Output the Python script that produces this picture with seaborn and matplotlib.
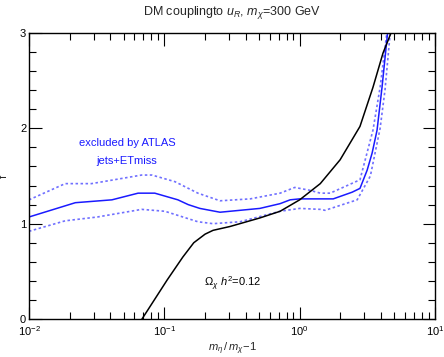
import numpy as np
import pandas as pd
import matplotlib
matplotlib.use("Agg")
import matplotlib.pyplot as plt
import seaborn as sns
from matplotlib.ticker import LogLocator, MultipleLocator, NullFormatter

# ---- data ----
excl_x = [0.01, 0.022, 0.041, 0.064, 0.085, 0.126, 0.15, 0.183, 0.258, 0.508, 0.717, 0.85, 1.0, 1.77, 2.44, 2.79, 3.15, 3.43, 3.73, 4.06, 4.5]
excl_y = [1.07, 1.22, 1.25, 1.32, 1.32, 1.25, 1.20, 1.16, 1.12, 1.16, 1.21, 1.25, 1.26, 1.26, 1.33, 1.37, 1.56, 1.74, 1.98, 2.43, 3.05]

upper_x = [0.01, 0.0185, 0.029, 0.068, 0.081, 0.12, 0.177, 0.258, 0.431, 0.717, 0.92, 1.19, 1.42, 1.68, 2.79, 3.48, 3.93, 4.45]
upper_y = [1.25, 1.42, 1.42, 1.51, 1.51, 1.44, 1.32, 1.24, 1.26, 1.32, 1.38, 1.35, 1.32, 1.32, 1.46, 1.98, 2.43, 3.05]

lower_x = [0.01, 0.0185, 0.032, 0.068, 0.101, 0.177, 0.229, 0.363, 0.717, 1.0, 1.42, 1.54, 2.66, 3.33, 3.93, 4.27, 4.7]
lower_y = [0.92, 1.03, 1.07, 1.15, 1.13, 1.02, 1.00, 1.02, 1.13, 1.16, 1.15, 1.14, 1.25, 1.50, 2.00, 2.40, 3.05]

relic_x = [0.066, 0.0684, 0.105, 0.137, 0.165, 0.2, 0.229, 0.305, 0.508, 0.717, 1.0, 1.42, 1.99, 2.79, 3.48, 4.13, 4.73, 4.9]
relic_y = [-0.05, 0.0, 0.41, 0.65, 0.80, 0.89, 0.93, 0.97, 1.06, 1.13, 1.25, 1.42, 1.67, 2.02, 2.43, 2.79, 3.0, 3.06]

x_ticks = [0.01, 0.1, 1, 10]
y_ticks = [0, 1, 2, 3]

sns.set_style("ticks")
plt.rcParams['font.family'] = ['Liberation Sans', 'DejaVu Sans']
plt.rcParams['mathtext.fontset'] = 'custom'
plt.rcParams['mathtext.rm'] = 'Liberation Sans'
plt.rcParams['mathtext.it'] = 'Liberation Sans:italic'

fig = plt.figure(figsize=(4.44, 3.57), dpi=100)
ax = fig.add_axes([29/444, 38/357, 406/444, 286/357])

blue = "#1a1aff"
light = "#7070ff"

df_u = pd.DataFrame({"x": upper_x, "y": upper_y})
df_l = pd.DataFrame({"x": lower_x, "y": lower_y})
df_e = pd.DataFrame({"x": excl_x, "y": excl_y})
df_r = pd.DataFrame({"x": relic_x, "y": relic_y})

sns.lineplot(data=df_u, x="x", y="y", ax=ax, color=light, lw=1.2, linestyle=(0, (1.5, 1.5)), sort=False)
sns.lineplot(data=df_l, x="x", y="y", ax=ax, color=light, lw=1.2, linestyle=(0, (1.5, 1.5)), sort=False)
sns.lineplot(data=df_e, x="x", y="y", ax=ax, color=blue, lw=1.1, sort=False)
sns.lineplot(data=df_r, x="x", y="y", ax=ax, color="black", lw=1.1, sort=False)

ax.set_xscale("log")
ax.set_xlim(0.01, 10)
ax.set_ylim(0, 3)
ax.set_xticks(x_ticks)
ax.set_yticks(y_ticks)
ax.xaxis.set_minor_locator(LogLocator(base=10, subs=np.arange(2, 10), numticks=20))
ax.xaxis.set_minor_formatter(NullFormatter())
ax.yaxis.set_minor_locator(MultipleLocator(0.2))
ax.tick_params(which="both", direction="in", top=True, right=True, labelsize=8, colors="black", width=0.8, pad=2)
ax.tick_params(axis="x", which="both", pad=4)
ax.tick_params(which="major", length=9)
ax.tick_params(which="minor", length=5)
for s in ax.spines.values():
    s.set_linewidth(1.0)
    s.set_color("black")

ax.set_xlabel(r"$m_\eta\,/\,m_\chi\!-\!1$", fontsize=8)
ax.xaxis.set_label_coords(0.5, -0.075)
ax.set_ylabel("f", fontsize=8)
ax.yaxis.set_label_coords(-0.05, 0.5)
ax.set_title(r"DM couplingto $u_R$, $m_\chi$=300 GeV", fontsize=9, pad=13)

ax.text(0.053, 1.845, "excluded by ATLAS", color=blue, fontsize=8, ha="center", va="center")
ax.text(0.053, 1.655, "jets+ETmiss", color=blue, fontsize=8, ha="center", va="center")
ax.text(0.195, 0.37, r"$\Omega_\chi\ h^2$=0.12", color="black", fontsize=8, ha="left", va="center")

fig.savefig("out.png", dpi=100)
